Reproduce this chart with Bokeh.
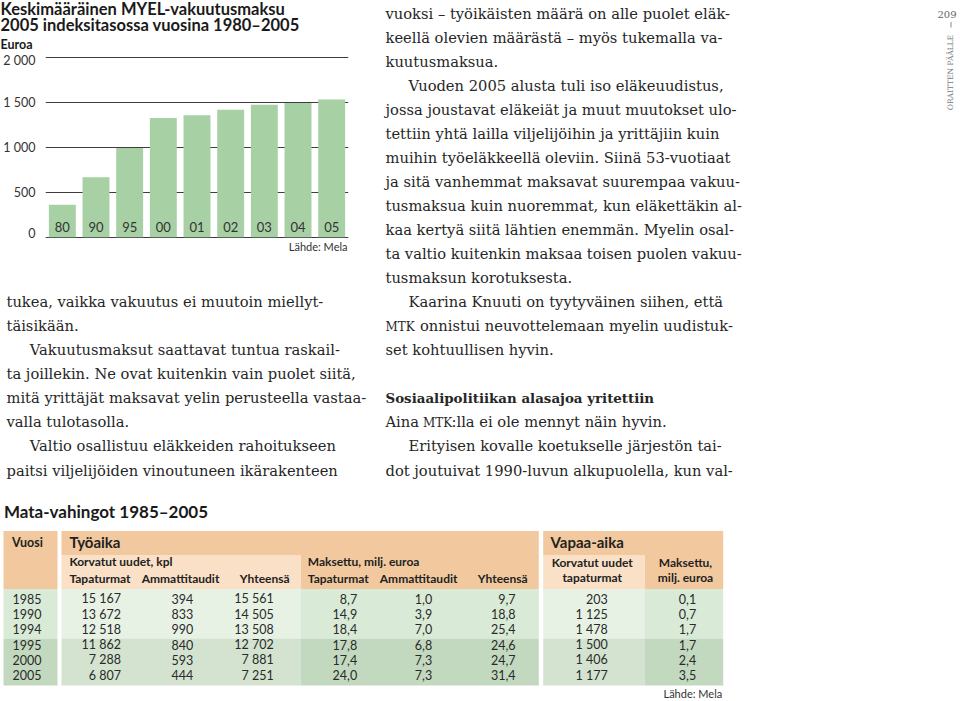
import math
from bokeh.plotting import figure
from bokeh.models import Range1d, FactorRange, FixedTicker, ColumnDataSource
from bokeh.layouts import column, row
from bokeh.core.properties import value
from bokeh.embed import file_html
from bokeh.resources import INLINE

# ---------------- data: bar chart ----------------
chart_title = ["Keskimääräinen MYEL-vakuutusmaksu",
               "2005 indeksitasossa vuosina 1980–2005"]
chart_unit = "Euroa"
source_note = "Lähde: Mela"
bar_years = ["80", "90", "95", "00", "01", "02", "03", "04", "05"]
bar_premium_eur = [360, 665, 990, 1325, 1355, 1415, 1470, 1490, 1530]
y_ticks = [0, 500, 1000, 1500, 2000]
y_tick_labels = ["0", "500", "1 000", "1 500", "2 000"]

# ---------------- data: table ----------------
table_title = "Mata-vahingot 1985–2005"
table_years = [1985, 1990, 1994, 1995, 2000, 2005]
work_accidents = [15167, 13672, 12518, 11862, 7288, 6807]
work_diseases = [394, 833, 990, 840, 593, 444]
work_total = [15561, 14505, 13508, 12702, 7881, 7251]
work_paid_accidents = [8.7, 14.9, 18.4, 17.8, 17.4, 24.0]
work_paid_diseases = [1.0, 3.9, 7.0, 6.8, 7.3, 7.3]
work_paid_total = [9.7, 18.8, 25.4, 24.6, 24.7, 31.4]
leisure_accidents = [203, 1125, 1478, 1500, 1406, 1177]
leisure_paid = [0.1, 0.7, 1.7, 1.7, 2.4, 3.5]

# ---------------- body text ----------------
left_col_lines = [
    "tukea, vaikka vakuutus ei muutoin miellyt-",
    "täisikään.",
    "Vakuutusmaksut saattavat tuntua raskail-",
    "ta joillekin. Ne ovat kuitenkin vain puolet siitä,",
    "mitä yrittäjät maksavat yelin perusteella vastaa-",
    "valla tulotasolla.",
    "Valtio osallistuu eläkkeiden rahoitukseen",
    "paitsi viljelijöiden vinoutuneen ikärakenteen",
]
left_indented = {2, 6}

right_col_lines = [
    [("vuoksi – työikäisten määrä on alle puolet eläk-", "body")],
    [("keellä olevien määrästä – myös tukemalla va-", "body")],
    [("kuutusmaksua.", "body")],
    [("Vuoden 2005 alusta tuli iso eläkeuudistus,", "body")],
    [("jossa joustavat eläkeiät ja muut muutokset ulo-", "body")],
    [("tettiin yhtä lailla viljelijöihin ja yrittäjiin kuin", "body")],
    [("muihin työeläkkeellä oleviin. Siinä 53-vuotiaat", "body")],
    [("ja sitä vanhemmat maksavat suurempaa vakuu-", "body")],
    [("tusmaksua kuin nuoremmat, kun eläkettäkin al-", "body")],
    [("kaa kertyä siitä lähtien enemmän. Myelin osal-", "body")],
    [("ta valtio kuitenkin maksaa toisen puolen vakuu-", "body")],
    [("tusmaksun korotuksesta.", "body")],
    [("Kaarina Knuuti on tyytyväinen siihen, että", "body")],
    [("MTK", "caps"), ("onnistui neuvottelemaan myelin uudistuk-", "body")],
    [("set kohtuullisen hyvin.", "body")],
    [],
    [("Sosiaalipolitiikan alasajoa yritettiin", "bold")],
    [("Aina", "body"), ("MTK", "caps"), (":lla ei ole mennyt näin hyvin.", "body")],
    [("Erityisen kovalle koetukselle järjestön tai-", "body")],
    [("dot joutuivat 1990-luvun alkupuolella, kun val-", "body")],
]
right_indented = {3, 12, 18}
page_number = "209"
running_head = "ORAITTEN PÄÄLLE"

# ---------------- layout constants (page pixels == reference pixels) ----------------
SANS = "Lato"
SERIF = "DejaVu Serif"
INK = "#222222"
TEXT_INK = "#262626"
LW, RW = 372, 588
TITLE_H, CHART_H, LTEXT_H = 52, 188, 246
TOP_H = TITLE_H + CHART_H + LTEXT_H
TABLE_H = 701 - TOP_H
# measured shift between the requested and the drawn alphabetic baseline
BASELINE_FIX = {SANS: 0.40, SERIF: 0.32}


def text_fig(width, height, xr, yr):
    p = figure(width=width, height=height,
               x_range=Range1d(*xr), y_range=Range1d(*yr),
               min_border=0, toolbar_location=None, output_backend="svg",
               x_axis_location=None, y_axis_location=None,
               outline_line_color=None, background_fill_color="white",
               border_fill_color="white", frame_align=False)
    p.grid.visible = False
    return p


def draw_text(p, xs, ys, texts, size, font=SANS, style="normal", align="left",
              color=INK, angle=0.0, baseline="alphabetic"):
    src = ColumnDataSource(dict(x=list(xs), y=list(ys), t=list(texts)))
    fix = 0.0
    if baseline == "alphabetic":
        fix = -BASELINE_FIX[font] * float(size.replace("px", ""))
    p.text(x="x", y="y", text="t", source=src, text_font=value(font),
           text_font_size=value(size), text_font_style=style,
           text_align=align, text_baseline=baseline, text_color=color,
           angle=angle, y_offset=fix)


def fi_int(n):
    return f"{n:,}".replace(",", " ")


def fi_dec(v):
    return f"{v:.1f}".replace(".", ",")


# ---------------- title figure ----------------
title_fig = text_fig(LW, TITLE_H, (0, LW), (TITLE_H, 0))
draw_text(title_fig, [0, 0], [15.5, 31.2], chart_title, "16.5px", style="bold",
          color="#1a1a1a")
draw_text(title_fig, [0], [49.0], [chart_unit], "12.5px", style="bold",
          color="#1a1a1a")

# ---------------- chart figure ----------------
r_grid_top, r_grid_zero = 56.67, 236.67       # page rows of top / zero gridlines
unit_px = (r_grid_zero - r_grid_top) / y_ticks[-1]
c_top = TITLE_H
c_bot = c_top + CHART_H
y_lo = (r_grid_zero - c_bot) / unit_px
y_hi = (r_grid_zero - c_top) / unit_px
frame_l, frame_r = 43, 348

chart = figure(width=LW, height=CHART_H,
               x_range=FactorRange(*bar_years), y_range=Range1d(y_lo, y_hi),
               min_border_left=frame_l, min_border_right=LW - frame_r,
               min_border_top=0, min_border_bottom=0,
               x_axis_location=None, y_axis_location="left",
               toolbar_location=None, output_backend="svg",
               outline_line_color=None, background_fill_color="white",
               border_fill_color="white", frame_align=False)
chart.x_range.range_padding = 0
chart.xgrid.visible = False
chart.yaxis.ticker = FixedTicker(ticks=y_ticks)
chart.yaxis.major_label_overrides = {t: l for t, l in zip(y_ticks, y_tick_labels)}
chart.yaxis.axis_line_color = None
chart.yaxis.major_tick_line_color = None
chart.yaxis.minor_tick_line_color = None
chart.yaxis.major_tick_out = 0
chart.yaxis.major_tick_in = 0
chart.yaxis.major_label_standoff = 10
chart.yaxis.major_label_text_font = SANS
chart.yaxis.major_label_text_font_size = "12.5px"
chart.yaxis.major_label_text_color = "#333333"
chart.ygrid.ticker = FixedTicker(ticks=y_ticks)
chart.ygrid.grid_line_color = "#3d3d3d"
chart.ygrid.grid_line_width = 1.2

bar_src = ColumnDataSource(dict(year=bar_years, eur=bar_premium_eur,
                                base=[0] * len(bar_years)))
chart.vbar(x="year", top="eur", width=0.8, source=bar_src,
           fill_color="#a8d0a5", line_color=None)
chart.text(x="year", y="base", text="year", source=bar_src,
           text_font=value(SANS), text_font_size=value("13px"),
           text_align="center", text_baseline="alphabetic",
           text_color="#333333", y_offset=-5 - BASELINE_FIX[SANS] * 13)

# ---------------- left text figure ----------------
l_top = c_bot
ltext = text_fig(LW, LTEXT_H, (0, LW), (l_top + LTEXT_H, l_top))
draw_text(ltext, [347], [250.5], [source_note], "11px", align="right",
          color="#333333")

BASE0, STEP = 17.3, 24.05
lx = [29.3 if i in left_indented else 6 for i in range(len(left_col_lines))]
ly = [BASE0 + STEP * (12 + i) for i in range(len(left_col_lines))]
draw_text(ltext, lx, ly, left_col_lines, "14.7px", font=SERIF, color=TEXT_INK)

# ---------------- right text figure ----------------
rtext = text_fig(RW, TOP_H, (LW, LW + RW), (TOP_H, 0))
seg_x = {13: [385, 419.5], 17: [385, 422.5, 451]}
groups = {"body": ([], [], []), "caps": ([], [], []), "bold": ([], [], [])}
for i, segs in enumerate(right_col_lines):
    y = BASE0 + STEP * i
    for k, (txt, kind) in enumerate(segs):
        if i in seg_x:
            x = seg_x[i][k]
        else:
            x = 408 if i in right_indented else 385
        groups[kind][0].append(x)
        groups[kind][1].append(y)
        groups[kind][2].append(txt)
draw_text(rtext, *groups["body"], "14.7px", font=SERIF, color=TEXT_INK)
draw_text(rtext, *groups["caps"], "12px", font=SERIF, color=TEXT_INK)
draw_text(rtext, *groups["bold"], "13.4px", font=SERIF, style="bold",
          color=TEXT_INK)

draw_text(rtext, [956], [16.7], [page_number], "10px", font=SERIF,
          align="right", color="#666666")
rtext.segment(x0=[950.5], y0=[21.5], x1=[950.5], y1=[27], line_color="#888888",
              line_width=1)
draw_text(rtext, [949.5], [72], [running_head], "7.5px", font=SERIF,
          align="center", baseline="middle", color="#777777", angle=math.pi / 2)

# ---------------- table figure ----------------
tab = text_fig(960, TABLE_H, (0, 960), (701, TOP_H))
draw_text(tab, [3.4], [517.4], [table_title], "17px", style="bold",
          color="#1a1a1a")

T_TOP, T_SUB, T_DATA, T_SPLIT, T_BOT = 530.5, 554.5, 588.5, 638.0, 685.0
TAN, PEACH = "#f2c99e", "#f9e0c6"
L1, L2, D1, D2 = "#e7f2e5", "#d9ead6", "#d3e3d0", "#c3d9bf"
boxes = [
    (3, 57, T_TOP, T_DATA, TAN),
    (61, 538.3, T_TOP, T_SUB, TAN),
    (300, 538.3, T_SUB, T_DATA, TAN),
    (61, 300, T_SUB, T_DATA, PEACH),
    (542.7, 722.7, T_TOP, T_SUB, TAN),
    (644, 722.7, T_SUB, T_DATA, TAN),
    (542.7, 644, T_SUB, T_DATA, PEACH),
    (3, 57, T_DATA, T_SPLIT, L2), (3, 57, T_SPLIT, T_BOT, D2),
    (61, 300, T_DATA, T_SPLIT, L1), (61, 300, T_SPLIT, T_BOT, D1),
    (300, 538.3, T_DATA, T_SPLIT, L2), (300, 538.3, T_SPLIT, T_BOT, D2),
    (542.7, 644, T_DATA, T_SPLIT, L1), (542.7, 644, T_SPLIT, T_BOT, D1),
    (644, 722.7, T_DATA, T_SPLIT, L2), (644, 722.7, T_SPLIT, T_BOT, D2),
]
tab.quad(left=[b[0] for b in boxes], right=[b[1] for b in boxes],
         top=[b[2] for b in boxes], bottom=[b[3] for b in boxes],
         fill_color=[b[4] for b in boxes], line_color=None)

HB = "12px"
draw_text(tab, [11.4], [546.5], ["Vuosi"], "12.5px", style="bold")
draw_text(tab, [68.9, 550], [547.5, 547.5], ["Työaika", "Vapaa-aika"], "15px",
          style="bold")
draw_text(tab, [68.9, 307.3], [565.8, 565.8],
          ["Korvatut uudet, kpl", "Maksettu, milj. euroa"], HB, style="bold")
draw_text(tab, [68.9, 141.2, 239.3, 307.3, 379.3, 477.3], [582.5] * 6,
          ["Tapaturmat", "Ammattitaudit", "Yhteensä",
           "Tapaturmat", "Ammattitaudit", "Yhteensä"], HB, style="bold")
draw_text(tab, [591.7, 591.7, 685, 685], [567.2, 581.5, 567.2, 581.5],
          ["Korvatut uudet", "tapaturmat", "Maksettu,", "milj. euroa"], HB,
          style="bold", align="center")

row_y = [603.3 + 15.28 * i for i in range(len(table_years))]
draw_text(tab, [12] * len(table_years), row_y, [str(y) for y in table_years],
          "12.5px", color="#2a2a2a")
num_cols = [
    (work_accidents, fi_int, 120.5),
    (work_diseases, fi_int, 192.8),
    (work_total, fi_int, 273.3),
    (work_paid_accidents, fi_dec, 356.7),
    (work_paid_diseases, fi_dec, 431.7),
    (work_paid_total, fi_dec, 515),
    (leisure_accidents, fi_int, 607.3),
    (leisure_paid, fi_dec, 695.7),
]
for vals, fmt, xr in num_cols:
    draw_text(tab, [xr] * len(vals), row_y, [fmt(v) for v in vals], "12.5px",
              align="right", color="#2a2a2a")
draw_text(tab, [721.7], [697.5], [source_note], "11px", align="right",
          color="#333333")

layout = column(row(column(title_fig, chart, ltext), rtext), tab)
open("out.html", "w").write(file_html(layout, INLINE))
